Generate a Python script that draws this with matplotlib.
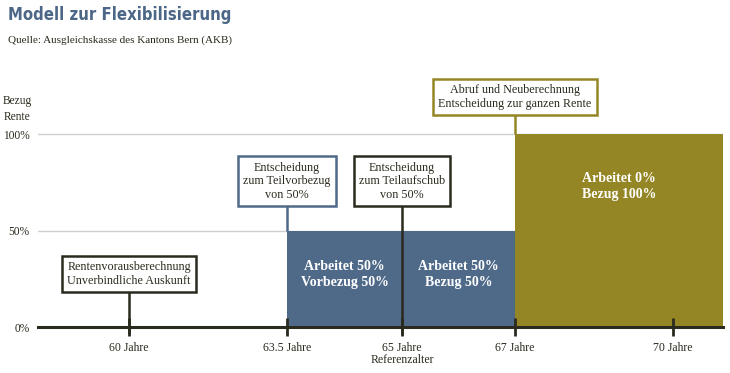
import numpy as np
import matplotlib
matplotlib.use("Agg")
import matplotlib.pyplot as plt

# Daten des Modells
alter_ticks = [60, 63.5, 65, 67, 70]
alter_labels = ["60 Jahre", "63.5 Jahre", "65 Jahre\nReferenzalter", "67 Jahre", "70 Jahre"]

phase_start = [63.5, 65, 67]
phase_ende = [65, 67, 70.95]
bezug = [50, 50, 100]
phase_text = ["Arbeitet 50%\nVorbezug 50%", "Arbeitet 50%\nBezug 50%", "Arbeitet 0%\nBezug 100%"]

ereignis_alter = [60, 63.5, 65, 67]
ereignis_text = ["Rentenvorausberechnung\nUnverbindliche Auskunft",
                 "Entscheidung\nzum Teilvorbezug\nvon 50%",
                 "Entscheidung\nzum Teilaufschub\nvon 50%",
                 "Abruf und Neuberechnung\nEntscheidung zur ganzen Rente"]
ereignis_hoehe = [27.5, 75.5, 75.5, 119]

y_ticks = [0, 50, 100]
y_labels = ["0%", "50%", "100%"]

# Farben
blau = "#4f6a89"
oliv = "#958625"
dunkel = "#2b2a1e"
phase_farbe = [blau, blau, oliv]
ereignis_farbe = [dunkel, blau, dunkel, oliv]

# schematische (nicht lineare) Zeitachse
knoten_alter = [57.98, 60, 63.5, 65, 67, 70, 70.95]
knoten_pos = [38, 129, 287, 402, 515, 673, 723]


def vor(x):
    return np.interp(x, knoten_alter, knoten_pos)


def zurueck(x):
    return np.interp(x, knoten_pos, knoten_alter)


serif = "Liberation Serif"

fig = plt.figure(figsize=(7.3, 3.73), dpi=100)
ax = fig.add_axes([38 / 730, 46 / 373, 685 / 730, 257 / 373])
ax.set_xscale("function", functions=(vor, zurueck))
ax.set_xlim(57.98, 70.95)
ax.set_ylim(0, 133.2)

# Gitterlinien
for y in [50, 100]:
    ax.axhline(y, color="#cfcfcf", lw=1, zorder=0)

# Balken
breite = [e - s for s, e in zip(phase_start, phase_ende)]
ax.bar(phase_start, bezug, width=breite, align="edge", color=phase_farbe, zorder=1)
for s, e, b, t in zip(phase_start, phase_ende, bezug, phase_text):
    xm = zurueck((vor(s) + vor(e)) / 2)
    ym = 27 if b == 50 else 73
    ax.text(xm, ym, t, ha="center", va="center", color="white", fontsize=10,
            fontweight="bold", family=serif, linespacing=1.3, zorder=3)

# Ereignisse mit Kasten
linie_unten = [-3.5, 50, -3.5, 100]
for a, t, h, f, u in zip(ereignis_alter, ereignis_text, ereignis_hoehe, ereignis_farbe, linie_unten):
    ax.plot([a, a], [u, h], color=f, lw=1.8, zorder=2, clip_on=False, solid_capstyle="butt")
    ax.text(a, h, t, ha="center", va="center", fontsize=8.7, family=serif, color=dunkel,
            linespacing=1.2, zorder=4,
            bbox=dict(boxstyle="square,pad=0.43", fc="white", ec=f, lw=1.8))

# Achsen
for s in ["top", "right", "left"]:
    ax.spines[s].set_visible(False)
ax.spines["bottom"].set_color(dunkel)
ax.spines["bottom"].set_linewidth(2.2)
ax.spines["bottom"].set_zorder(5)
ax.set_xticks(alter_ticks)
ax.set_xticklabels(alter_labels, fontsize=8.5, family=serif, color=dunkel, linespacing=1.1)
ax.tick_params(axis="x", direction="inout", length=13, width=2, color=dunkel, pad=4)
ax.set_yticks(y_ticks)
ax.set_yticklabels(y_labels, fontsize=8.3, family=serif, color=dunkel)
ax.tick_params(axis="y", length=0, pad=6)
fig.text(17 / 730, 1 - 109 / 373, "Bezug\nRente", ha="center", va="center",
         fontsize=8.3, family=serif, color=dunkel, linespacing=1.4)

# Titel
fig.text(8 / 730, 1 - 15 / 373, "Modell zur Flexibilisierung", fontsize=12, fontweight="bold",
         family="DejaVu Sans", fontstretch="condensed", color="#4b6686", va="center")
fig.text(8 / 730, 1 - 40 / 373, "Quelle: Ausgleichskasse des Kantons Bern (AKB)", fontsize=8,
         family=serif, color=dunkel, va="center")

fig.savefig("out.png", dpi=100)
